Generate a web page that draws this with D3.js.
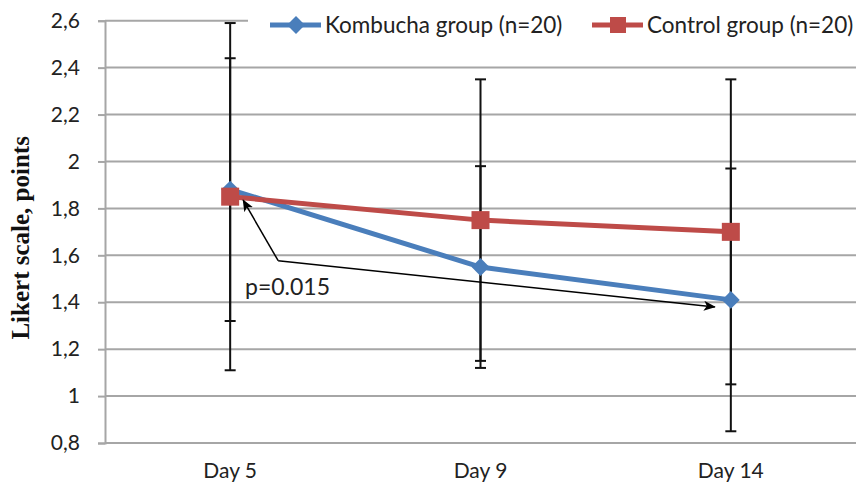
<!DOCTYPE html>
<html>
<head>
<meta charset="utf-8">
<script src="https://cdn.jsdelivr.net/npm/d3@7/dist/d3.min.js"></script>
<style>
  html, body { margin: 0; padding: 0; background: #fff; }
  svg { display: block; }
</style>
</head>
<body>
<svg id="chart" width="858" height="483"></svg>
<script>
// Data
const days = ["Day 5", "Day 9", "Day 14"];
const kombuchaMean = [1.88, 1.55, 1.41];
const kombuchaSD   = [0.56, 0.43, 0.56];
const controlMean  = [1.85, 1.75, 1.70];
const controlSD    = [0.74, 0.60, 0.65];
const yTicks = [0.8, 1.0, 1.2, 1.4, 1.6, 1.8, 2.0, 2.2, 2.4, 2.6];
const seriesNames = ["Kombucha group (n=20)", "Control group (n=20)"];
const pLabel = "p=0.015";

const blue = "#4a7ebb";
const red = "#be4b48";
const grid = "#a6a6a6";
const uiFont = "Lato, 'Open Sans', sans-serif";

const svg = d3.select("#chart");
const plotLeft = 105, plotRight = 856, plotTop = 20.7, plotBottom = 443;

const x = d3.scalePoint().domain(days).range([plotLeft, plotRight]).padding(0.5);
const y = d3.scaleLinear().domain([0.8, 2.6]).range([plotBottom, plotTop]);

const commaLocale = d3.formatLocale({decimal: ",", thousands: ".", grouping: [3], currency: ["", ""]});
const fmt = commaLocale.format("~g");

// Horizontal gridlines
svg.append("g").selectAll("line").data(yTicks).join("line")
  .attr("x1", plotLeft).attr("x2", plotRight)
  .attr("y1", d => y(d)).attr("y2", d => y(d))
  .attr("stroke", grid).attr("stroke-width", 2);

// Y axis
const yAxis = svg.append("g").attr("transform", `translate(${plotLeft},0)`)
  .call(d3.axisLeft(y).tickValues(yTicks).tickFormat(fmt).tickSize(7).tickPadding(18));
yAxis.select(".domain").attr("stroke", grid).attr("stroke-width", 2);
yAxis.selectAll(".tick line").attr("stroke", grid).attr("stroke-width", 2);
yAxis.selectAll(".tick text")
  .attr("font-family", uiFont).attr("font-size", 21).attr("fill", "#222");

// X axis labels
svg.append("g").selectAll("text").data(days).join("text")
  .attr("x", d => x(d)).attr("y", 478)
  .attr("text-anchor", "middle")
  .attr("font-family", uiFont).attr("font-size", 21).attr("fill", "#222")
  .text(d => d);

// Y axis title
svg.append("text")
  .attr("transform", `translate(29,${(plotTop + plotBottom) / 2 + 6}) rotate(-90)`)
  .attr("text-anchor", "middle")
  .attr("font-family", "'Liberation Serif', 'Times New Roman', serif")
  .attr("font-weight", "bold").attr("font-size", 25).attr("fill", "#111")
  .text("Likert scale, points");

// Error bars
function errorBars(means, sds) {
  const g = svg.append("g").attr("stroke", "#111").attr("stroke-width", 2);
  days.forEach((d, i) => {
    const cx = x(d), lo = y(means[i] - sds[i]), hi = y(means[i] + sds[i]);
    g.append("line").attr("x1", cx).attr("x2", cx).attr("y1", lo).attr("y2", hi);
    g.append("line").attr("x1", cx - 5.5).attr("x2", cx + 5.5).attr("y1", lo).attr("y2", lo);
    g.append("line").attr("x1", cx - 5.5).attr("x2", cx + 5.5).attr("y1", hi).attr("y2", hi);
  });
}
errorBars(controlMean, controlSD);
errorBars(kombuchaMean, kombuchaSD);

// Lines
const line = d3.line().x((d, i) => x(days[i])).y(d => y(d));
svg.append("path").datum(kombuchaMean).attr("d", line)
  .attr("fill", "none").attr("stroke", blue).attr("stroke-width", 5);
svg.append("path").datum(controlMean).attr("d", line)
  .attr("fill", "none").attr("stroke", red).attr("stroke-width", 5);

const diamond = d3.symbol().type(d3.symbolSquare).size(160);
svg.append("g").selectAll("path").data(kombuchaMean).join("path")
  .attr("d", diamond)
  .attr("transform", (d, i) => `translate(${x(days[i])},${y(d)}) rotate(45)`)
  .attr("fill", blue);
svg.append("g").selectAll("rect").data(controlMean).join("rect")
  .attr("x", (d, i) => x(days[i]) - 9).attr("y", d => y(d) - 9)
  .attr("width", 18).attr("height", 18).attr("fill", red);

// Significance annotation
const defs = svg.append("defs");
defs.append("marker").attr("id", "arrow")
  .attr("viewBox", "0 0 12 10").attr("refX", 11).attr("refY", 5)
  .attr("markerWidth", 12).attr("markerHeight", 10)
  .attr("markerUnits", "userSpaceOnUse").attr("orient", "auto")
  .append("path").attr("d", "M0,0 L12,5 L0,10 L3,5 Z").attr("fill", "#000");

const vertex = [x(days[0]) + 48, y(1.577)];
svg.append("line")
  .attr("x1", vertex[0]).attr("y1", vertex[1])
  .attr("x2", x(days[0]) + 13).attr("y2", y(1.835))
  .attr("stroke", "#000").attr("stroke-width", 1.5).attr("marker-end", "url(#arrow)");
svg.append("line")
  .attr("x1", vertex[0]).attr("y1", vertex[1])
  .attr("x2", x(days[2]) - 16).attr("y2", y(1.38))
  .attr("stroke", "#000").attr("stroke-width", 1.5).attr("marker-end", "url(#arrow)");
svg.append("text").attr("x", 245).attr("y", 295)
  .attr("font-family", uiFont).attr("font-size", 23).attr("fill", "#222")
  .text(pLabel);

// Legend
const legend = svg.append("g");
legend.append("rect").attr("x", 248).attr("y", 5).attr("width", 610).attr("height", 38).attr("fill", "#fff");
const items = [
  {name: seriesNames[0], color: blue, x0: 270, shape: "diamond"},
  {name: seriesNames[1], color: red, x0: 592, shape: "square"}
];
items.forEach(it => {
  const g = legend.append("g");
  g.append("line").attr("x1", it.x0).attr("x2", it.x0 + 51).attr("y1", 25).attr("y2", 25)
    .attr("stroke", it.color).attr("stroke-width", 5);
  if (it.shape === "diamond") {
    g.append("path").attr("d", diamond).attr("transform", `translate(${it.x0 + 26},25) rotate(45)`).attr("fill", it.color);
  } else {
    g.append("rect").attr("x", it.x0 + 26 - 8).attr("y", 17).attr("width", 16).attr("height", 16).attr("fill", it.color);
  }
  g.append("text").attr("x", it.x0 + 55).attr("y", 33)
    .attr("font-family", uiFont).attr("font-size", 22.5).attr("fill", "#222")
    .text(it.name);
});
</script>
</body>
</html>
